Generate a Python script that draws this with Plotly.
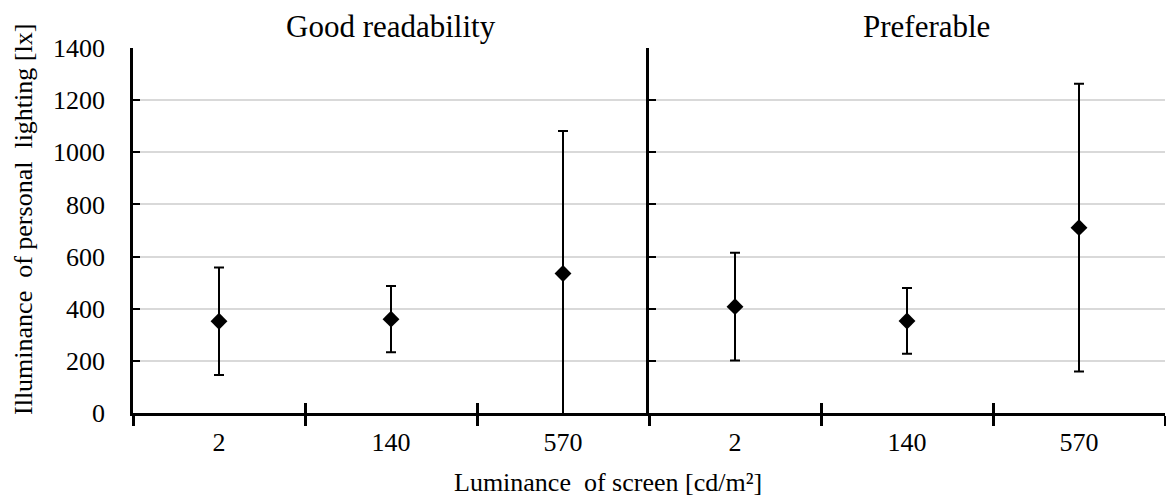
import plotly.graph_objects as go

categories = ["2", "140", "570"]
panels = ["Good readability", "Preferable"]
good_mean = [352, 360, 535]
good_sd = [206, 127, 547]
pref_mean = [408, 353, 711]
pref_sd = [207, 126, 552]

FONT = "Liberation Serif, Times New Roman, serif"
W, H = 1166, 497
ML, MR, MT, MB = 133, 1, 48, 84
PW = W - ML - MR
PH = H - MT - MB

def px_x(px):
    return (px - ML) / PW

def px_y(py):
    return (H - MB - py) / PH

fig = go.Figure()

for xa, mean, sd in [("x", good_mean, good_sd), ("x2", pref_mean, pref_sd)]:
    fig.add_trace(go.Scatter(
        x=categories, y=mean, xaxis=xa, yaxis="y" if xa == "x" else "y2",
        mode="markers",
        marker=dict(symbol="diamond", size=13, color="black"),
        error_y=dict(type="data", array=sd, visible=True, color="black",
                     thickness=2, width=5),
        showlegend=False, hoverinfo="skip",
    ))

# invisible traces to drive the overlay axes (inner half of the crossing ticks)
fig.add_trace(go.Scatter(x=categories, y=good_mean, xaxis="x3", yaxis="y",
                         mode="markers", marker=dict(opacity=0),
                         showlegend=False, hoverinfo="skip"))
fig.add_trace(go.Scatter(x=categories, y=pref_mean, xaxis="x4", yaxis="y2",
                         mode="markers", marker=dict(opacity=0),
                         showlegend=False, hoverinfo="skip"))

tickfont = dict(family=FONT, size=26, color="black")

xcommon = dict(type="category", categoryorder="array", categoryarray=categories,
               range=[-0.5, 2.5], tickson="boundaries", showgrid=False,
               linecolor="black", linewidth=2.5, tickcolor="black", tickwidth=2.5,
               ticklen=10, tickfont=tickfont, fixedrange=True)

fig.update_layout(
    width=W, height=H,
    margin=dict(l=ML, r=MR, t=MT, b=MB, pad=0),
    plot_bgcolor="white", paper_bgcolor="white",
    xaxis=dict(domain=[0, 0.5], anchor="y", showline=True, ticks="outside",
               ticklabelstandoff=4, **xcommon),
    xaxis2=dict(domain=[0.5, 1], anchor="y2", showline=True, ticks="outside",
                ticklabelstandoff=4, **xcommon),
    xaxis3=dict(overlaying="x", anchor="y", showline=False, ticks="inside",
                showticklabels=False, **xcommon),
    xaxis4=dict(overlaying="x2", anchor="y2", showline=False, ticks="inside",
                showticklabels=False, **xcommon),
    yaxis=dict(domain=[0, 1], anchor="x", range=[0, 1400], dtick=200,
               showgrid=True, gridcolor="#d9d9d9", gridwidth=1.5,
               showline=True, linecolor="black", linewidth=2.5,
               ticks="inside", ticklen=7, tickwidth=2, tickcolor="black",
               tickfont=tickfont, ticklabelstandoff=20, zeroline=False,
               fixedrange=True),
    yaxis2=dict(domain=[0, 1], anchor="x2", range=[0, 1400], dtick=200,
                matches="y",
                showgrid=True, gridcolor="#d9d9d9", gridwidth=1.5,
                showline=True, linecolor="black", linewidth=2.5,
                ticks="inside", ticklen=7, tickwidth=2, tickcolor="black",
                showticklabels=False, zeroline=False, fixedrange=True),
)

annotations = [
    dict(text=panels[0], x=px_x(391), y=px_y(26)),
    dict(text=panels[1], x=px_x(926), y=px_y(26)),
    dict(text="Luminance\u00a0 of screen [cd/m\u00b2]", x=px_x(608), y=px_y(482)),
    dict(text="Illuminance\u00a0 of personal\u00a0 lighting [lx]", x=px_x(24), y=px_y(220),
         textangle=-90),
]
for a in annotations:
    size = 31 if a["text"] in panels else 26
    fig.add_annotation(xref="paper", yref="paper", showarrow=False,
                       xanchor="center", yanchor="middle",
                       font=dict(family=FONT, size=size, color="black"), **a)

fig.write_html("out.html", config={"displayModeBar": False},
               post_script="document.body.style.margin='0';document.body.style.padding='0';")
